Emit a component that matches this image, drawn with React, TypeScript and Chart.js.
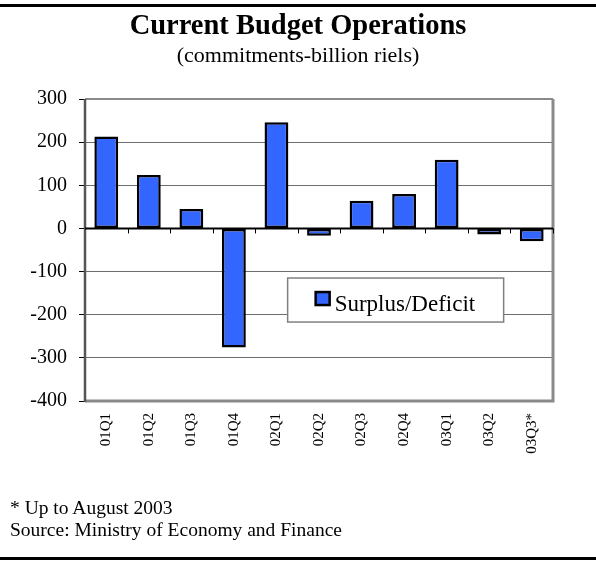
import React, { useEffect, useRef } from "react";
import { Chart, registerables } from "chart.js";

Chart.register(...registerables);

const categories = ["01Q1", "01Q2", "01Q3", "01Q4", "02Q1", "02Q2", "02Q3", "02Q4", "03Q1", "03Q2", "03Q3*"];
const surplusDeficit = [213, 124, 45, -276, 246, -17, 64, 80, 159, -14, -30];
const yTicks = [300, 200, 100, 0, -100, -200, -300, -400];
const seriesLabel = "Surplus/Deficit";
const titleText = "Current Budget Operations";
const subtitleText = "(commitments-billion riels)";
const footnotes = ["* Up to August 2003", "Source: Ministry of Economy and Finance"];

const SERIF = "'Liberation Serif', 'Times New Roman', serif";
const BAR_COLOR = "#3366FF";

const framePlugin = {
  id: "frameAndLegend",
  afterDatasetsDraw(chart: any) {
    const { ctx, chartArea, scales } = chart;
    const { left, right, top, bottom } = chartArea;
    const y0 = scales.y.getPixelForValue(0);
    ctx.save();
    ctx.strokeStyle = "#8a8a8a";
    ctx.lineWidth = 2;
    ctx.beginPath();
    ctx.moveTo(left, top);
    ctx.lineTo(right, top);
    ctx.stroke();
    ctx.lineWidth = 3;
    ctx.beginPath();
    ctx.moveTo(right, top);
    ctx.lineTo(right, bottom);
    ctx.lineTo(left, bottom);
    ctx.stroke();
    ctx.strokeStyle = "#555";
    ctx.lineWidth = 2.5;
    ctx.beginPath();
    ctx.moveTo(left, top);
    ctx.lineTo(left, bottom + 1);
    ctx.stroke();
    ctx.strokeStyle = "#000";
    ctx.lineWidth = 2;
    ctx.beginPath();
    ctx.moveTo(left, y0);
    ctx.lineTo(right, y0);
    ctx.stroke();
    ctx.lineWidth = 1;
    const n = categories.length;
    const step = (right - left) / n;
    for (let i = 1; i <= n; i++) {
      const x = Math.round(left + i * step) + 0.5;
      ctx.beginPath();
      ctx.moveTo(x, y0);
      ctx.lineTo(x, y0 + 5);
      ctx.stroke();
    }
    const lx = left + (right - left) * 0.433;
    const ly = scales.y.getPixelForValue(-115);
    const lw = 216;
    const lh = 44;
    ctx.fillStyle = "#fff";
    ctx.fillRect(lx, ly, lw, lh);
    ctx.strokeStyle = "#808080";
    ctx.lineWidth = 1.5;
    ctx.strokeRect(lx, ly, lw, lh);
    ctx.fillStyle = BAR_COLOR;
    ctx.fillRect(lx + 28, ly + 14, 14, 13);
    ctx.strokeStyle = "#000";
    ctx.lineWidth = 2.5;
    ctx.strokeRect(lx + 28, ly + 14, 14, 13);
    ctx.fillStyle = "#000";
    ctx.font = `23px ${SERIF}`;
    ctx.textBaseline = "alphabetic";
    ctx.textAlign = "left";
    ctx.fillText(seriesLabel, lx + 47, ly + 33);
    ctx.restore();
  },
};

function BudgetChart() {
  const ref = useRef<HTMLCanvasElement>(null);
  useEffect(() => {
    if (!ref.current) return;
    const chart = new Chart(ref.current, {
      type: "bar",
      data: {
        labels: categories,
        datasets: [
          {
            label: seriesLabel,
            data: surplusDeficit,
            backgroundColor: BAR_COLOR,
            borderColor: "#000",
            borderWidth: 2.5,
            borderSkipped: false,
            barPercentage: 0.56,
            categoryPercentage: 1,
          },
        ],
      },
      options: {
        animation: false,
        responsive: false,
        maintainAspectRatio: false,
        layout: { padding: { top: 99, right: 43, left: 0, bottom: 0 } },
        plugins: {
          legend: { display: false },
          tooltip: { enabled: false },
          title: { display: false },
        },
        scales: {
          x: {
            offset: true,
            grid: { display: false, drawTicks: false },
            border: { display: false },
            ticks: {
              color: "#000",
              font: { family: SERIF, size: 15 },
              minRotation: 90,
              maxRotation: 90,
              padding: 12,
              autoSkip: false,
            },
            afterFit(scale: any) {
              scale.height = 162;
            },
          },
          y: {
            min: -400,
            max: 300,
            afterBuildTicks(scale: any) {
              scale.ticks = yTicks.map((v) => ({ value: v }));
            },
            grid: {
              color: "#6e6e6e",
              lineWidth: 1,
              drawTicks: true,
              tickLength: 6,
              tickColor: "#000",
            },
            border: { display: false },
            ticks: {
              color: "#000",
              font: { family: SERIF, size: 20 },
              padding: 12,
            },
            afterFit(scale: any) {
              scale.width = 85;
            },
          },
        },
      },
      plugins: [framePlugin],
    });
    return () => chart.destroy();
  }, []);
  return <canvas ref={ref} width={596} height={563} style={{ position: "absolute", left: 0, top: 0 }} />;
}

export default function App() {
  return (
    <div style={{ position: "fixed", left: 0, top: 0, width: 596, height: 563, background: "#fff", fontFamily: SERIF, color: "#000" }}>
      <div style={{ position: "absolute", left: 0, top: 4, width: 596, height: 3, background: "#000" }} />
      <BudgetChart />
      <div style={{ position: "absolute", left: 0, top: 11, width: 596, textAlign: "center", fontSize: 28.5, fontWeight: "bold", lineHeight: "28.5px", whiteSpace: "nowrap" }}>
        {titleText}
      </div>
      <div style={{ position: "absolute", left: 0, top: 43.6, width: 596, textAlign: "center", fontSize: 22, lineHeight: "22px", whiteSpace: "nowrap" }}>
        {subtitleText}
      </div>
      <div style={{ position: "absolute", left: 10, top: 497.4, fontSize: 19.5, lineHeight: "22px", whiteSpace: "nowrap" }}>
        {footnotes.map((f) => (
          <div key={f}>{f}</div>
        ))}
      </div>
      <div style={{ position: "absolute", left: 0, top: 557, width: 596, height: 3, background: "#000" }} />
    </div>
  );
}
